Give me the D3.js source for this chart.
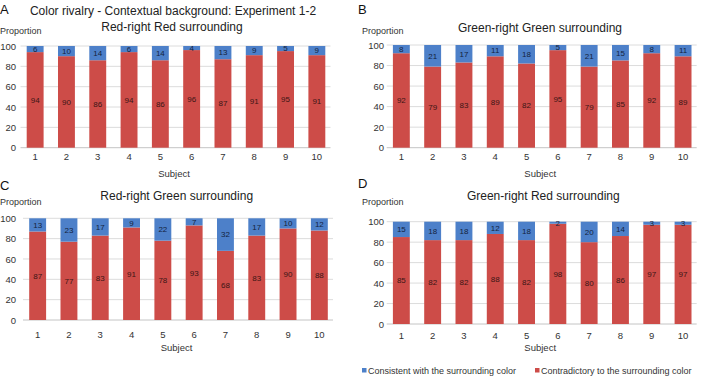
<!DOCTYPE html>
<html>
<head>
<meta charset="utf-8">
<script src="https://cdn.jsdelivr.net/npm/d3@7"></script>
<style>
  body { margin: 0; background: #fff; }
  svg { display: block; font-family: "Liberation Sans", Arial, sans-serif; }
</style>
</head>
<body>
<div id="chart"></div>
<script>
// data
const subjects = ["1", "2", "3", "4", "5", "6", "7", "8", "9", "10"];
const yTicks = [0, 20, 40, 60, 80, 100];

const consistentA = [6, 10, 14, 6, 14, 4, 13, 9, 5, 9];
const contradictA = [94, 90, 86, 94, 86, 96, 87, 91, 95, 91];
const consistentB = [8, 21, 17, 11, 18, 5, 21, 15, 8, 11];
const contradictB = [92, 79, 83, 89, 82, 95, 79, 85, 92, 89];
const consistentC = [13, 23, 17, 9, 22, 7, 32, 17, 10, 12];
const contradictC = [87, 77, 83, 91, 78, 93, 68, 83, 90, 88];
const consistentD = [15, 18, 18, 12, 18, 2, 20, 14, 3, 3];
const contradictD = [85, 82, 82, 88, 82, 98, 80, 86, 97, 97];

const seriesNames = ["Consistent with the surrounding color", "Contradictory to the surrounding color"];
const colors = { consistent: "#4d80c9", contradict: "#cd4c48" };

const panels = [
    { letter: "A", title: "Red-right Red surrounding", cons: consistentA, contr: contradictA,
      x0: 19.5, x1: 332.5, top: 46, bottom: 147.7, tickRight: 16, propX: 0, propY: 30.7,
      letterX: 0, letterY: 14, titleX: 172, titleY: 26.7, xtickY: 9, subjY: 25.6 },
    { letter: "B", title: "Green-right Green surrounding", cons: consistentB, contr: contradictB,
      x0: 385.7, x1: 698.7, top: 45, bottom: 147.7, tickRight: 384, propX: 362, propY: 30.7,
      letterX: 358, letterY: 14, titleX: 540, titleY: 27.3, xtickY: 9, subjY: 25.6 },
    { letter: "C", title: "Red-right Green surrounding", cons: consistentC, contr: contradictC,
      x0: 22, x1: 335, top: 218.3, bottom: 320, tickRight: 16, propX: 0, propY: 202.3,
      letterX: 0, letterY: 190, titleX: 176.7, titleY: 196, xtickY: 14.3, subjY: 27.7 },
    { letter: "D", title: "Green-right Red surrounding", cons: consistentD, contr: contradictD,
      x0: 385.7, x1: 698.7, top: 221.7, bottom: 324, tickRight: 384, propX: 362, propY: 202.3,
      letterX: 358, letterY: 188, titleX: 543.3, titleY: 196, xtickY: 11, subjY: 23.7 }
];

const W = 709, H = 380;

const svg = d3.select("#chart")
    .append("svg")
    .attr("width", W)
    .attr("height", H);

// main title over panel A
svg.append("text")
    .attr("x", 173)
    .attr("y", 10.7)
    .attr("dy", "0.35em")
    .attr("text-anchor", "middle")
    .attr("font-size", 12)
    .attr("fill", "#222")
    .text("Color rivalry - Contextual background: Experiment 1-2");

panels.forEach((p) => {

    const x = d3.scaleBand()
        .domain(subjects)
        .range([p.x0, p.x1])
        .paddingInner(0.46)
        .paddingOuter(0.23);

    const y = d3.scaleLinear()
        .domain([0, 100])
        .range([p.bottom, p.top]);

    const g = svg.append("g");

    // gridlines
    g.append("g")
        .selectAll("line")
        .data(yTicks)
        .join("line")
        .attr("x1", p.x0 + 1)
        .attr("x2", p.x1 - 2)
        .attr("y1", (d) => y(d))
        .attr("y2", (d) => y(d))
        .attr("stroke", (d) => d === 0 ? "#c4c4c4" : "#dcdcdc")
        .attr("stroke-width", 1);

    // y axis labels
    const yAxis = g.append("g")
        .attr("transform", "translate(" + p.tickRight + ",0)")
        .call(d3.axisLeft(y).tickValues(yTicks).tickSize(0).tickPadding(0));
    yAxis.select(".domain").remove();
    yAxis.selectAll("text")
        .attr("font-size", 9.5)
        .attr("fill", "#333")
        .attr("font-family", "Liberation Sans, Arial, sans-serif");

    // x axis labels
    const xAxis = g.append("g")
        .attr("transform", "translate(0," + (p.bottom + p.xtickY - 3.2) + ")")
        .call(d3.axisBottom(x).tickSize(0).tickPadding(0));
    xAxis.select(".domain").remove();
    xAxis.selectAll("text")
        .attr("font-size", 9.5)
        .attr("fill", "#333")
        .attr("font-family", "Liberation Sans, Arial, sans-serif");

    // stacked bars
    const rows = subjects.map((s, i) => ({ s: s, contr: p.contr[i], cons: p.cons[i] }));

    g.append("g")
        .selectAll("rect")
        .data(rows)
        .join("rect")
        .attr("x", (d) => x(d.s))
        .attr("width", x.bandwidth())
        .attr("y", (d) => y(d.contr))
        .attr("height", (d) => y(0) - y(d.contr))
        .attr("fill", colors.contradict);

    g.append("g")
        .selectAll("rect")
        .data(rows)
        .join("rect")
        .attr("x", (d) => x(d.s))
        .attr("width", x.bandwidth())
        .attr("y", (d) => y(d.contr + d.cons))
        .attr("height", (d) => y(d.contr) - y(d.contr + d.cons))
        .attr("fill", colors.consistent);

    // value labels
    g.append("g")
        .selectAll("text")
        .data(rows)
        .join("text")
        .attr("x", (d) => x(d.s) + x.bandwidth() / 2)
        .attr("y", (d) => y(d.contr / 2))
        .attr("dy", "0.35em")
        .attr("text-anchor", "middle")
        .attr("font-size", 8)
        .attr("fill", "#3b1515")
        .text((d) => d.contr);

    g.append("g")
        .selectAll("text")
        .data(rows)
        .join("text")
        .attr("x", (d) => x(d.s) + x.bandwidth() / 2)
        .attr("y", (d) => y(d.contr + d.cons / 2))
        .attr("dy", "0.35em")
        .attr("text-anchor", "middle")
        .attr("font-size", 8)
        .attr("fill", "#14233d")
        .text((d) => d.cons);

    // titles and axis names
    g.append("text")
        .attr("x", p.titleX)
        .attr("y", p.titleY)
        .attr("dy", "0.35em")
        .attr("text-anchor", "middle")
        .attr("font-size", 12)
        .attr("fill", "#222")
        .text(p.title);

    g.append("text")
        .attr("x", p.propX)
        .attr("y", p.propY)
        .attr("dy", "0.35em")
        .attr("font-size", 9)
        .attr("fill", "#333")
        .text("Proportion");

    g.append("text")
        .attr("x", (p.x0 + p.x1) / 2 - 2)
        .attr("y", p.bottom + p.subjY)
        .attr("dy", "0.35em")
        .attr("text-anchor", "middle")
        .attr("font-size", 9.5)
        .attr("fill", "#333")
        .text("Subject");

    g.append("text")
        .attr("x", p.letterX)
        .attr("y", p.letterY)
        .attr("font-size", 13)
        .attr("fill", "#111")
        .text(p.letter);
});

// legend
const legend = svg.append("g");
const legendX = [362, 535];
const legendColors = [colors.consistent, colors.contradict];

legend.selectAll("rect")
    .data(seriesNames)
    .join("rect")
    .attr("x", (d, i) => legendX[i])
    .attr("y", 368)
    .attr("width", 4.5)
    .attr("height", 4.5)
    .attr("fill", (d, i) => legendColors[i]);

legend.selectAll("text")
    .data(seriesNames)
    .join("text")
    .attr("x", (d, i) => legendX[i] + 6)
    .attr("y", 370.5)
    .attr("dy", "0.35em")
    .attr("font-size", 9)
    .attr("fill", "#333")
    .text((d) => d);
</script>
</body>
</html>
